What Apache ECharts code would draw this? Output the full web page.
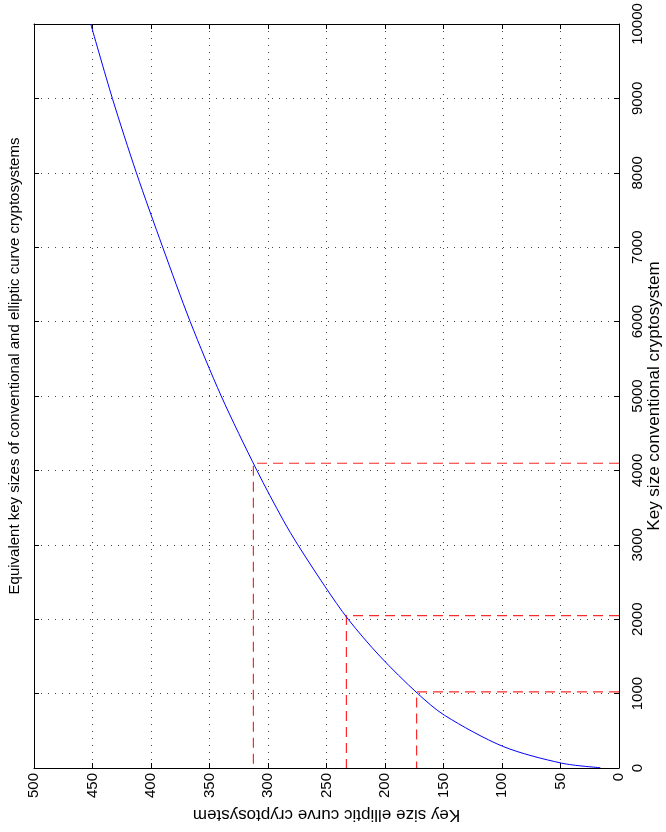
<!DOCTYPE html>
<html>
<head>
<meta charset="utf-8">
<script src="https://cdn.jsdelivr.net/npm/echarts@6/dist/echarts.min.js"></script>
<style>
html,body{margin:0;padding:0;background:#fff;}
#chart{width:666px;height:832px;}
</style>
</head>
<body>
<div id="chart"></div>
<script>
// ---- data ----
const titleText = "Equivalent key sizes of conventional and elliptic curve cryptosystems";
const conventionalName = "Key size conventional cryptosystem";
const ellipticName = "Key size elliptic curve cryptosystem";

// curve: conventional key size -> elliptic curve key size
const conventionalKeys = [4, 65, 289, 707, 1000, 1505, 2000, 2433, 3000, 3331, 4000, 5000, 6000, 7000, 8000, 9000, 10000];
const ellipticKeys     = [16, 49, 99, 149, 172, 204.5, 231.5, 251, 274.5, 287, 309.5, 340, 366.5, 390, 412.5, 433, 451.5];

// highlighted equivalences (red dashed guides)
const markConventional = [1024, 2048, 4096];
const markElliptic     = [173, 233, 312.5];

// axis ticks
const conventionalTicks = [0, 1000, 2000, 3000, 4000, 5000, 6000, 7000, 8000, 9000, 10000];
const ellipticTicks = [0, 50, 100, 150, 200, 250, 300, 350, 400, 450, 500];

// ---- chart ----
const FONT = "'Liberation Sans', Arial, Helvetica, sans-serif";
const chart = echarts.init(document.getElementById('chart'), null, {renderer: 'canvas'});

const curveData = conventionalKeys.map((c, i) => [ellipticKeys[i], c]);

const guideSeries = markConventional.map((c, i) => ({
  type: 'line',
  name: 'guide' + c,
  data: [[0, c], [markElliptic[i], c], [markElliptic[i], 0]],
  symbol: 'none',
  silent: true,
  z: 3,
  lineStyle: {color: '#ff2a2a', width: 1.2, type: [10, 6]}
}));

const plain = v => String(v);
const gridDots = {show: true, lineStyle: {color: '#444', width: 1, type: [1, 6]}};
const boxLine = {show: true, onZero: false, lineStyle: {color: '#000', width: 1}};
const inTick = {show: true, inside: true, length: 5, lineStyle: {color: '#000'}};

const option = {
  backgroundColor: '#fff',
  animation: false,
  textStyle: {fontFamily: FONT},
  grid: {left: 34, right: 47, top: 24, bottom: 64, containLabel: false, outerBoundsMode: 'none'},
  graphic: [{
    type: 'text',
    x: 15,
    y: 366,
    rotation: Math.PI / 2,
    style: {
      text: titleText,
      fill: '#000',
      font: '15px ' + FONT,
      textAlign: 'center',
      textVerticalAlign: 'middle'
    }
  }],
  xAxis: [{
    type: 'value',
    position: 'bottom',
    inverse: true,
    min: ellipticTicks[0],
    max: ellipticTicks[ellipticTicks.length - 1],
    interval: ellipticTicks[1] - ellipticTicks[0],
    name: ellipticName,
    nameLocation: 'middle',
    nameRotate: 180,
    nameGap: 38,
    nameMoveOverlap: false,
    nameTextStyle: {color: '#000', fontSize: 17, fontFamily: FONT},
    axisLine: boxLine,
    axisTick: inTick,
    axisLabel: {rotate: 90, margin: 5, color: '#000', fontSize: 15, fontFamily: FONT,
                formatter: plain, showMinLabel: true, showMaxLabel: true, hideOverlap: false},
    splitLine: gridDots
  }, {
    type: 'value',
    position: 'top',
    inverse: true,
    min: ellipticTicks[0],
    max: ellipticTicks[ellipticTicks.length - 1],
    interval: ellipticTicks[1] - ellipticTicks[0],
    axisLine: boxLine,
    axisTick: inTick,
    axisLabel: {show: false},
    splitLine: {show: false}
  }],
  yAxis: [{
    type: 'value',
    position: 'right',
    min: conventionalTicks[0],
    max: conventionalTicks[conventionalTicks.length - 1],
    interval: conventionalTicks[1] - conventionalTicks[0],
    name: conventionalName,
    nameLocation: 'middle',
    nameRotate: 90,
    nameGap: 27,
    nameMoveOverlap: false,
    nameTextStyle: {color: '#000', fontSize: 17, fontFamily: FONT},
    axisLine: boxLine,
    axisTick: inTick,
    axisLabel: {rotate: 90, margin: 11, color: '#000', fontSize: 15, fontFamily: FONT,
                formatter: plain, showMinLabel: true, showMaxLabel: true, hideOverlap: false},
    splitLine: gridDots
  }, {
    type: 'value',
    position: 'left',
    min: conventionalTicks[0],
    max: conventionalTicks[conventionalTicks.length - 1],
    interval: conventionalTicks[1] - conventionalTicks[0],
    axisLine: boxLine,
    axisTick: inTick,
    axisLabel: {show: false},
    splitLine: {show: false}
  }],
  series: [{
    type: 'line',
    name: 'equivalence',
    data: curveData,
    symbol: 'none',
    smooth: 0.3,
    z: 4,
    lineStyle: {color: '#0000ff', width: 1}
  }].concat(guideSeries)
};
chart.setOption(option);
</script>
</body>
</html>
